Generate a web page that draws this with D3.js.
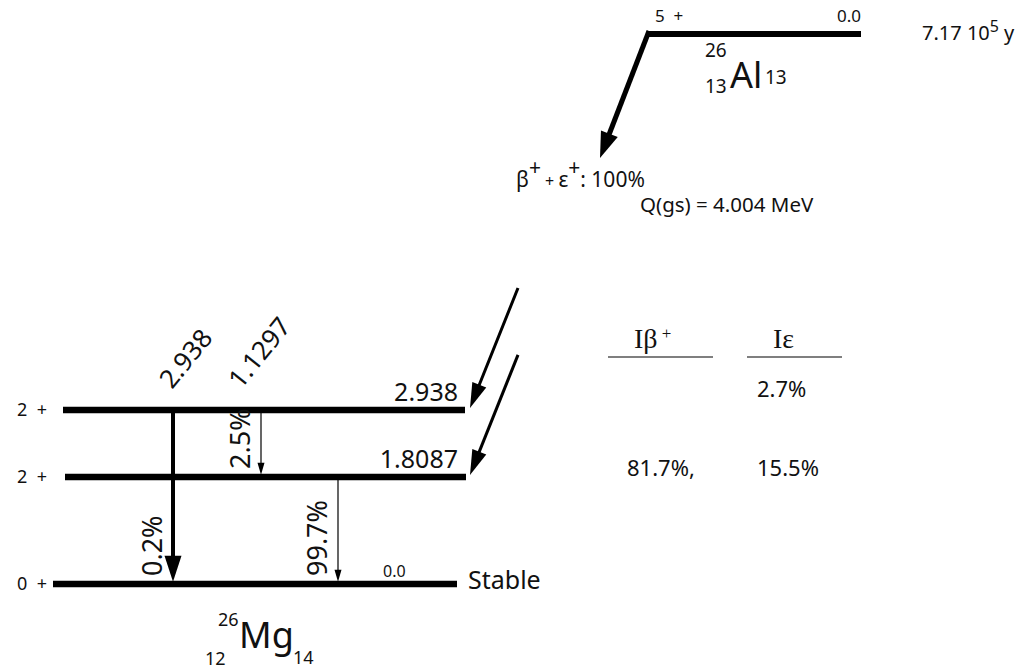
<!DOCTYPE html>
<html><head><meta charset="utf-8">
<script src="https://cdn.jsdelivr.net/npm/d3@7"></script>
<style>
body{margin:0;background:#fff}
svg{display:block}
text{font-family:"Noto Sans","Open Sans",sans-serif;fill:#111;white-space:pre}
.serif{font-family:"Liberation Serif","DejaVu Serif",serif}
</style>
</head><body>
<svg id="c" width="1033" height="669"></svg>
<script>
// ---------- data ----------
const levelEnergies = [0.0, 1.8087, 2.938];
const levelSpins    = ["0  +", "2  +", "2  +"];
const levelLabels   = ["0.0", "1.8087", "2.938"];

const gammaNames     = ["2.938", "1.1297", "1.8087"];
const gammaFrom      = [2.938, 2.938, 1.8087];
const gammaTo        = [0.0, 1.8087, 0.0];
const gammaIntensity = ["0.2%", "2.5%", "99.7%"];
const gammaEnergyLabels = ["2.938", "1.1297", ""];
const gammaStrong    = [true, false, false];

const feedLevels = [2.938, 1.8087];
const feedIbeta  = ["", "81.7%,"];
const feedIec    = ["2.7%", "15.5%"];

const parentSpin = "5  +";
const parentEnergyLabel = "0.0";
const halfLifeMantissa = "7.17 10";
const halfLifeExp = "5";
const halfLifeUnit = " y";
const qValue = "Q(gs) = 4.004 MeV";
const decayModeShare = ": 100%";

// ---------- layout ----------
const L = {
  levelX0: [53, 65, 63], levelX1: [457, 466, 465], levelW: 6.5,
  gammaX: {"2.938": 173, "1.1297": 261, "1.8087": 338},
  gammaLabelX: {"2.938": 172, "1.1297": 241},
  feedTipX: 470, feedDX: 48, feedDY: 120,
  parentY: 34, parentX0: 648, parentX1: 861,
  parentTip: [600, 158],
  rowOffsets: [-13, -1]
};

const svg = d3.select("#c");
const y = d3.scaleLinear().domain([0, 2.938]).range([584, 410]);
const gx = d3.scaleOrdinal().domain(gammaNames).range(gammaNames.map(n => L.gammaX[n]));

function arrowHead(g, tip, dir, len, hw) {
  const n = Math.hypot(dir[0], dir[1]);
  const ux = dir[0]/n, uy = dir[1]/n, px = -uy, py = ux;
  const bx = tip[0] - ux*len, by = tip[1] - uy*len;
  g.append("path")
    .attr("d", d3.line()([tip, [bx + px*hw, by + py*hw], [bx - px*hw, by - py*hw]]) + "Z")
    .attr("fill", "#000");
  return [tip[0] - ux*len*0.7, tip[1] - uy*len*0.7];
}

const g = svg.append("g");

// levels
levelEnergies.forEach((e, i) => {
  g.append("line").attr("x1", L.levelX0[i]).attr("x2", L.levelX1[i])
    .attr("y1", y(e)).attr("y2", y(e)).attr("stroke", "#000").attr("stroke-width", L.levelW);
  g.append("text").attr("x", 17).attr("y", y(e) + 6).attr("font-size", 18).text(levelSpins[i]);
  if (e === 0) {
    g.append("text").attr("x", 383).attr("y", y(e) - 7).attr("font-size", 16).text(levelLabels[i]);
  } else {
    g.append("text").attr("x", 458).attr("y", y(e) - 9).attr("font-size", 25)
      .attr("text-anchor", "end").text(levelLabels[i]);
  }
});
g.append("text").attr("x", 468).attr("y", y(0) + 5).attr("font-size", 25).text("Stable");

// gamma transitions
gammaNames.forEach((nm, i) => {
  const x = gx(nm), y0 = y(gammaFrom[i]), y1 = y(gammaTo[i]) - L.levelW/2 + 1;
  const strong = gammaStrong[i];
  const base = arrowHead(g, [x, y1], [0, 1], strong ? 26 : 12, strong ? 8.5 : 3.5);
  g.append("line").attr("x1", x).attr("x2", x).attr("y1", y0).attr("y2", base[1])
    .attr("stroke", "#000").attr("stroke-width", strong ? 4 : 1.2);
  g.append("text").attr("transform", `translate(${x - 11},${y(gammaTo[i]) - 8}) rotate(-90)`)
    .attr("font-size", 27).text(gammaIntensity[i]);
  if (gammaEnergyLabels[i]) {
    g.append("text").attr("transform", `translate(${L.gammaLabelX[nm]},${y(gammaFrom[i]) - 20}) rotate(-51)`)
      .attr("font-size", 26).text(gammaEnergyLabels[i]);
  }
});

// feeding arrows
feedLevels.forEach((e, i) => {
  const tip = [L.feedTipX, y(e) - 2];
  const start = [tip[0] + L.feedDX, tip[1] - L.feedDY];
  const base = arrowHead(g, tip, [-L.feedDX, L.feedDY], 25, 7.5);
  g.append("line").attr("x1", start[0]).attr("y1", start[1]).attr("x2", base[0]).attr("y2", base[1])
    .attr("stroke", "#000").attr("stroke-width", 3);
  g.append("text").attr("x", 627).attr("y", y(e) + L.rowOffsets[i]).attr("font-size", 22).text(feedIbeta[i]);
  g.append("text").attr("x", 757).attr("y", y(e) + L.rowOffsets[i]).attr("font-size", 22).text(feedIec[i]);
});

// table headers
const h1 = g.append("text").attr("class", "serif").attr("x", 634).attr("y", 348).attr("font-size", 28);
h1.append("tspan").text("Iβ");
h1.append("tspan").attr("dy", -9).attr("font-size", 17).text(" +");
g.append("text").attr("class", "serif").attr("x", 773).attr("y", 348).attr("font-size", 28).text("Iε");
g.append("line").attr("x1", 608).attr("x2", 713).attr("y1", 357).attr("y2", 357).attr("stroke", "#555").attr("stroke-width", 1.5);
g.append("line").attr("x1", 747).attr("x2", 842).attr("y1", 357).attr("y2", 357).attr("stroke", "#555").attr("stroke-width", 1.5);

// parent level
g.append("line").attr("x1", L.parentX0).attr("x2", L.parentX1).attr("y1", L.parentY).attr("y2", L.parentY)
  .attr("stroke", "#000").attr("stroke-width", 6);
{
  const corner = [L.parentX0 + 1, L.parentY - 3];
  const d = [L.parentTip[0] - corner[0], L.parentTip[1] - corner[1]];
  const base = arrowHead(g, L.parentTip, d, 26, 9);
  g.append("line").attr("x1", corner[0]).attr("y1", corner[1]).attr("x2", base[0]).attr("y2", base[1])
    .attr("stroke", "#000").attr("stroke-width", 5);
}
g.append("text").attr("x", 655).attr("y", 22).attr("font-size", 17).text(parentSpin);
g.append("text").attr("x", 861).attr("y", 22).attr("font-size", 17).attr("text-anchor", "end").text(parentEnergyLabel);
{
  const t = g.append("text").attr("x", 922).attr("y", 40).attr("font-size", 20);
  t.append("tspan").text(halfLifeMantissa);
  t.append("tspan").attr("dy", -8).attr("font-size", 16).text(halfLifeExp);
  t.append("tspan").attr("dy", 8).text(halfLifeUnit);
}
// Al nuclide
g.append("text").attr("x", 705).attr("y", 57).attr("font-size", 19).text("26");
g.append("text").attr("x", 705).attr("y", 93).attr("font-size", 19).text("13");
g.append("text").attr("x", 730).attr("y", 88).attr("font-size", 36).text("Al");
g.append("text").attr("x", 765).attr("y", 84).attr("font-size", 19).text("13");

// decay mode
{
  const t = g.append("text").attr("x", 516).attr("y", 187).attr("font-size", 21);
  t.append("tspan").text("β");
  t.append("tspan").attr("dy", -12).text("+");
  t.append("tspan").attr("dy", 12).attr("font-size", 16).text(" + ");
  t.append("tspan").text("ε");
  t.append("tspan").attr("dy", -12).text("+");
  t.append("tspan").attr("dy", 12).text(decayModeShare);
}
g.append("text").attr("x", 640).attr("y", 212).attr("font-size", 20.5).text(qValue);

// Mg nuclide
g.append("text").attr("x", 218).attr("y", 626).attr("font-size", 18).text("26");
g.append("text").attr("x", 205).attr("y", 665).attr("font-size", 18).text("12");
g.append("text").attr("x", 239).attr("y", 648).attr("font-size", 36).text("Mg");
g.append("text").attr("x", 293).attr("y", 664).attr("font-size", 18).text("14");
</script>
</body></html>
